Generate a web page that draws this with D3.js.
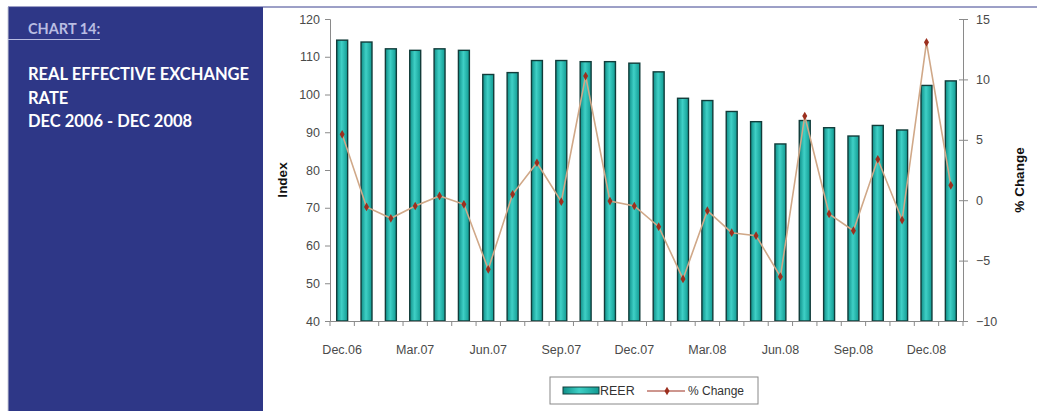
<!DOCTYPE html>
<html><head><meta charset="utf-8">
<script src="https://cdn.jsdelivr.net/npm/d3@7"></script>
<style>
html,body{margin:0;padding:0;background:#fff;}
svg{display:block;}
</style></head>
<body>
<script>
const months = ["Dec.06","Jan.07","Feb.07","Mar.07","Apr.07","May.07","Jun.07","Jul.07","Aug.07","Sep.07","Oct.07","Nov.07","Dec.07","Jan.08","Feb.08","Mar.08","Apr.08","May.08","Jun.08","Jul.08","Aug.08","Sep.08","Oct.08","Nov.08","Dec.08","Jan.09"];
const reer = [114.4,113.9,112.1,111.7,112.1,111.7,105.3,105.8,109.0,109.0,108.7,108.7,108.3,106.0,99.0,98.4,95.5,92.8,86.9,93.1,91.2,89.0,91.8,90.6,102.4,103.6];
const pctChange = [5.45,-0.56,-1.5,-0.48,0.35,-0.34,-5.72,0.49,3.1,-0.12,10.28,-0.07,-0.48,-2.19,-6.52,-0.87,-2.69,-2.94,-6.33,6.97,-1.14,-2.52,3.39,-1.64,13.07,1.23];
const xTickLabels = ["Dec.06","Mar.07","Jun.07","Sep.07","Dec.07","Mar.08","Jun.08","Sep.08","Dec.08"];
const leftTicks = [40,50,60,70,80,90,100,110,120];
const rightTicks = [-10,-5,0,5,10,15];

const W = 1037, H = 411;
const svg = d3.select("body").append("svg").attr("width", W).attr("height", H);

// left panel
svg.append("rect").attr("x",8).attr("y",7).attr("width",255).attr("height",H-7).attr("fill","#2e3787");
svg.append("line").attr("x1",8).attr("x2",W).attr("y1",7).attr("y2",7).attr("stroke","#3a418e").attr("stroke-width",1);
svg.append("line").attr("x1",8).attr("x2",8).attr("y1",7).attr("y2",H).attr("stroke","#c8cad8").attr("stroke-width",1);
svg.append("text").attr("x",28).attr("y",34).text("CHART 14:")
  .attr("fill","#b9bde2").attr("font-family","Lato, 'Open Sans', sans-serif").attr("font-weight","bold").attr("font-size",14.5);
svg.append("line").attr("x1",8).attr("x2",100).attr("y1",39.5).attr("y2",39.5).attr("stroke","#b9bde2").attr("stroke-width",1);
const titleLines = ["REAL EFFECTIVE EXCHANGE","RATE","DEC 2006 - DEC 2008"];
titleLines.forEach((t,i)=>{
  svg.append("text").attr("x",28).attr("y",80+i*23.5).text(t)
   .attr("fill","#ffffff").attr("font-family","Lato, 'Open Sans', sans-serif").attr("font-weight","bold").attr("font-size",16.5);
});

// chart
const x0 = 330, x1 = 963, yTop = 19, yBot = 321;
const x = d3.scaleBand().domain(months).range([x0,x1]).paddingInner(0.55).paddingOuter(0.275);
const xb = d3.scaleBand().domain(months).range([x0,x1]);
const yL = d3.scaleLinear().domain([40,120]).range([yBot,yTop]);
const yR = d3.scaleLinear().domain([-10,15]).range([yBot,yTop]);

const defs = svg.append("defs");
const grad = defs.append("linearGradient").attr("id","barGrad").attr("x1","0").attr("x2","1").attr("y1","0").attr("y2","0");
grad.append("stop").attr("offset","0%").attr("stop-color","#0f8f88");
grad.append("stop").attr("offset","45%").attr("stop-color","#3fd0c6");
grad.append("stop").attr("offset","100%").attr("stop-color","#119a92");

svg.append("g").selectAll("rect").data(reer).join("rect")
  .attr("x",(d,i)=>x(months[i]))
  .attr("y",d=>yL(d))
  .attr("width",x.bandwidth())
  .attr("height",d=>yL(40)-yL(d))
  .attr("fill","url(#barGrad)")
  .attr("stroke","#123c3a").attr("stroke-width",1.4);

// axes
const axisColor = "#8a8a8a";
const textColor = "#4a4a4a";
const fontAxis = "'Liberation Sans', Arial, sans-serif";

const gL = svg.append("g").attr("transform",`translate(${x0},0)`)
  .call(d3.axisLeft(yL).tickValues(leftTicks).tickSize(5).tickPadding(5));
const gR = svg.append("g").attr("transform",`translate(${x1},0)`)
  .call(d3.axisRight(yR).tickValues(rightTicks).tickSize(5).tickPadding(8));
gR.selectAll(".tick line").attr("x1",-4);
const gX = svg.append("g").attr("transform",`translate(0,${yBot})`)
  .call(d3.axisBottom(xb).tickValues([]).tickSizeOuter(0));
// band-boundary ticks
svg.append("g").selectAll("line").data(months.concat(["_end"])).join("line")
  .attr("x1",(d,i)=> x0 + i*xb.step()).attr("x2",(d,i)=> x0 + i*xb.step())
  .attr("y1",yBot).attr("y2",yBot+5).attr("stroke",axisColor);
// x labels
svg.append("g").selectAll("text").data(xTickLabels).join("text")
  .attr("x",d=>xb(d)+xb.bandwidth()/2).attr("y",yBot+33)
  .attr("text-anchor","middle").text(d=>d)
  .attr("font-family","'Liberation Sans Narrow', 'Liberation Sans', Arial, sans-serif").attr("font-size",12.5).attr("fill",textColor);

[gL,gR,gX].forEach(g=>{
  g.selectAll("path").attr("stroke",axisColor);
  g.selectAll(".tick line").attr("stroke",axisColor);
  g.selectAll("text").attr("font-family",fontAxis).attr("font-size",12.5).attr("fill",textColor);
});

// line
const line = d3.line().x((d,i)=>x(months[i])+x.bandwidth()/2).y(d=>yR(d));
svg.append("path").datum(pctChange).attr("d",line).attr("fill","none").attr("stroke","#d0a888").attr("stroke-width",1.6);
const diamond = d3.symbol().type(d3.symbolDiamond).size(22);
svg.append("g").selectAll("path").data(pctChange).join("path")
  .attr("transform",(d,i)=>`translate(${x(months[i])+x.bandwidth()/2},${yR(d)})`)
  .attr("d",diamond).attr("fill","#9c2f1e");

// axis titles
svg.append("text").attr("transform","translate(287,180) rotate(-90)").attr("text-anchor","middle")
  .text("Index").attr("font-family",fontAxis).attr("font-weight","bold").attr("font-size",13.5).attr("fill","#111");
svg.append("text").attr("transform","translate(1024,180) rotate(-90)").attr("text-anchor","middle")
  .text("% Change").attr("font-family",fontAxis).attr("font-weight","bold").attr("font-size",13.5).attr("fill","#111");

// legend
const lg = svg.append("g");
lg.append("rect").attr("x",550).attr("y",377).attr("width",208).attr("height",27).attr("fill","#fff").attr("stroke","#888");
lg.append("rect").attr("x",563).attr("y",387).attr("width",36).attr("height",7).attr("fill","url(#barGrad)").attr("stroke","#123c3a");
lg.append("text").attr("x",600).attr("y",395).text("REER").attr("font-family","'Liberation Sans Narrow', 'Liberation Sans', Arial, sans-serif").attr("font-size",12.5).attr("fill","#333");
lg.append("line").attr("x1",647).attr("x2",685).attr("y1",391).attr("y2",391).attr("stroke","#9c2f1e").attr("stroke-width",1);
lg.append("path").attr("transform","translate(667,391)").attr("d",diamond).attr("fill","#9c2f1e");
lg.append("text").attr("x",688).attr("y",395).text("% Change").attr("font-family","'Liberation Sans Narrow', 'Liberation Sans', Arial, sans-serif").attr("font-size",12).attr("fill","#333");
</script>
</body></html>
